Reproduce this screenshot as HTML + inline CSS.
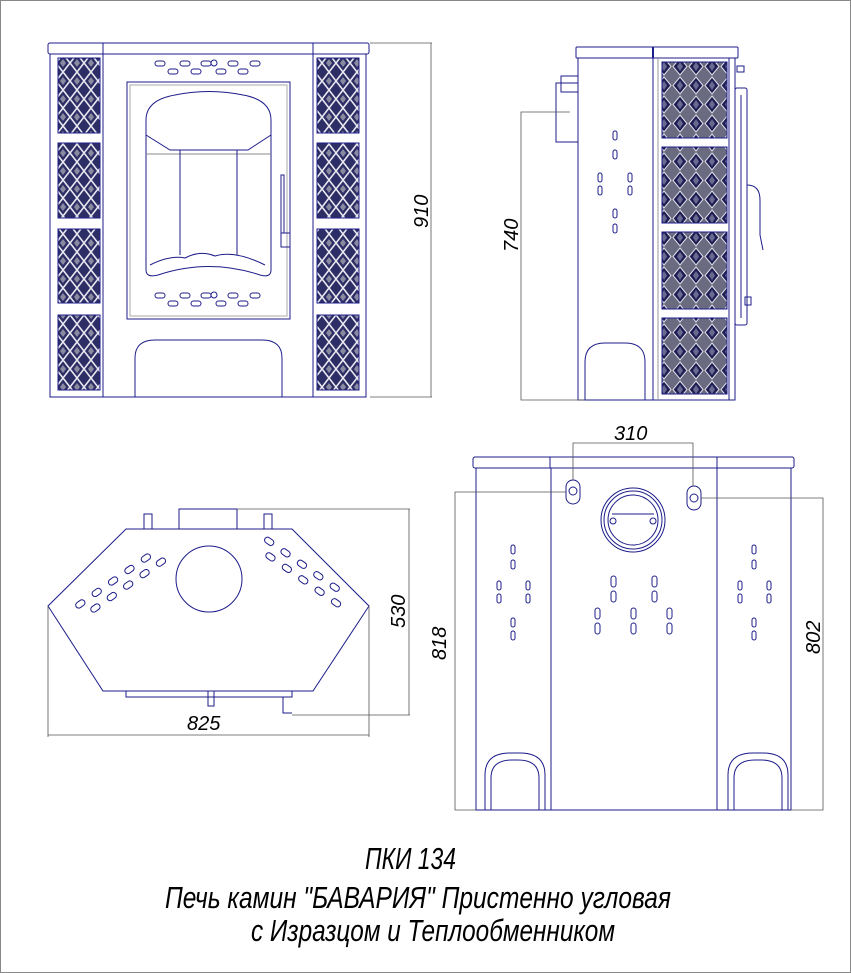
<!DOCTYPE html>
<html><head><meta charset="utf-8"><style>
html,body{margin:0;padding:0;background:#fff;}
svg{display:block;}
text{font-family:"Liberation Sans",sans-serif;font-style:italic;fill:#000;}
</style></head><body>
<svg width="851" height="973" viewBox="0 0 851 973" xmlns="http://www.w3.org/2000/svg">
<defs>
<pattern id="t1" width="14" height="18" patternUnits="userSpaceOnUse">
<rect width="14" height="18" fill="#2e2e66"/>
<path d="M7 0 L14 9 L7 18 L0 9 Z" fill="none" stroke="#e8e8f0" stroke-width="1.6"/>
<path d="M7 5 L10 9 L7 13 L4 9 Z" fill="#8a8aa0"/>
</pattern>
<pattern id="t2" width="16" height="19" patternUnits="userSpaceOnUse">
<rect width="16" height="19" fill="#6a6a80"/>
<path d="M8 1 L15 9.5 L8 18 L1 9.5 Z" fill="#1e1e55" stroke="#e0e0e8" stroke-width="1"/>
<path d="M8 5 L11 9.5 L8 14 L5 9.5 Z" fill="#6a6a90"/>
</pattern>
</defs>
<rect x="0.5" y="0.5" width="850" height="972" fill="#fff" stroke="#888" stroke-width="1"/>
<g fill="none" stroke="#1c1c8a" stroke-width="1">
<!-- FRONT VIEW -->
<rect x="48" y="43" width="321" height="11" rx="2"/>
<line x1="103" y1="43" x2="103" y2="54"/><line x1="313" y1="43" x2="313" y2="54"/>
<rect x="50" y="54" width="53" height="343"/>
<rect x="313" y="54" width="53" height="343"/>
<rect x="103" y="54" width="210" height="343"/>
<rect x="58" y="58" width="42" height="75" fill="url(#t1)"/>
<rect x="58" y="143" width="42" height="75" fill="url(#t1)"/>
<rect x="58" y="229" width="42" height="74" fill="url(#t1)"/>
<rect x="58" y="315" width="42" height="75" fill="url(#t1)"/>
<rect x="317" y="58" width="42" height="75" fill="url(#t1)"/>
<rect x="317" y="143" width="42" height="75" fill="url(#t1)"/>
<rect x="317" y="229" width="42" height="74" fill="url(#t1)"/>
<rect x="317" y="315" width="42" height="75" fill="url(#t1)"/>
<rect x="127" y="82" width="163" height="237"/>
<rect x="130" y="85" width="157" height="231" stroke="#aaa"/>
<path d="M146 120 Q146 100 175 95 Q209 88 243 95 Q271 100 271 120 L271 270 Q271 278 260 275 Q209 258 158 275 Q146 278 146 270 Z"/>
<path d="M146 135 L170 150 L248 150 L271 135"/>
<line x1="146" y1="154" x2="271" y2="154" stroke="#888"/>
<line x1="180" y1="150" x2="180" y2="255"/><line x1="237" y1="150" x2="237" y2="255"/>
<path d="M150 265 Q170 255 185 258 Q200 250 215 256 Q235 250 265 265"/>
<rect x="281" y="175" width="3" height="58"/><rect x="281" y="233" width="9" height="14"/>
<path d="M135 397 L135 358 Q135 340 155 340 L262 340 Q282 340 282 358 L282 397"/>
<g>
<rect x="155" y="61" width="10" height="5" rx="2.5"/><rect x="180" y="61" width="10" height="5" rx="2.5"/><rect x="201" y="61" width="10" height="5" rx="2.5"/><circle cx="214" cy="63" r="3"/><rect x="228" y="61" width="10" height="5" rx="2.5"/><rect x="250" y="61" width="10" height="5" rx="2.5"/>
<rect x="168" y="69" width="10" height="5" rx="2.5"/><rect x="191" y="69" width="10" height="5" rx="2.5"/><rect x="216" y="69" width="10" height="5" rx="2.5"/><rect x="238" y="69" width="10" height="5" rx="2.5"/>
<rect x="155" y="293" width="10" height="5" rx="2.5"/><rect x="180" y="293" width="10" height="5" rx="2.5"/><rect x="201" y="293" width="10" height="5" rx="2.5"/><circle cx="214" cy="295" r="3"/><rect x="228" y="293" width="10" height="5" rx="2.5"/><rect x="250" y="293" width="10" height="5" rx="2.5"/>
<rect x="168" y="301" width="10" height="5" rx="2.5"/><rect x="191" y="301" width="10" height="5" rx="2.5"/><rect x="216" y="301" width="10" height="5" rx="2.5"/><rect x="238" y="301" width="10" height="5" rx="2.5"/>
</g>
<!-- SIDE VIEW -->
<rect x="576" y="47" width="162" height="11" rx="1"/>
<line x1="653" y1="47" x2="653" y2="58" stroke-width="2"/>
<rect x="578" y="58" width="157" height="342"/>
<line x1="653" y1="58" x2="653" y2="400"/><line x1="658" y1="58" x2="658" y2="400" stroke="#999"/>
<line x1="729" y1="58" x2="729" y2="400"/>
<rect x="662" y="62" width="65" height="76" fill="url(#t2)"/>
<rect x="662" y="147" width="65" height="76" fill="url(#t2)"/>
<rect x="662" y="232" width="65" height="77" fill="url(#t2)"/>
<rect x="662" y="318" width="65" height="76" fill="url(#t2)"/>
<rect x="556" y="83" width="22" height="59"/><rect x="561" y="76" width="17" height="16"/>
<rect x="735" y="88" width="12" height="237" rx="2"/><line x1="741" y1="95" x2="741" y2="318"/>
<path d="M747 185 Q760 185 760 200 L760 235 L763 250"/>
<rect x="737" y="66" width="7" height="6"/><rect x="745" y="297" width="6" height="8"/>
<path d="M585 400 L585 362 Q585 343 605 343 L625 343 Q645 343 645 362 L645 400"/>
<rect x="613" y="131" width="4" height="9" rx="2"/><rect x="613" y="150" width="4" height="9" rx="2"/>
<rect x="598" y="173" width="4" height="9" rx="2"/><rect x="598" y="186" width="4" height="9" rx="2"/>
<rect x="628" y="173" width="4" height="9" rx="2"/><rect x="628" y="186" width="4" height="9" rx="2"/>
<rect x="613" y="209" width="4" height="9" rx="2"/><rect x="613" y="224" width="4" height="9" rx="2"/>
<!-- TOP VIEW -->
<polygon points="126,529 292,529 369,606 313,691 103,691 48,606"/>
<rect x="179" y="509" width="58" height="20"/>
<rect x="144" y="514" width="8" height="15"/><rect x="264" y="514" width="8" height="15"/>
<rect x="126" y="691" width="166" height="6"/><rect x="208" y="691" width="6" height="15"/>
<path d="M283 697 L283 713 L292 713"/>
<circle cx="209" cy="579" r="33"/>
<g transform="rotate(-35 95 590)"><rect x="70" y="590" width="10" height="6" rx="3"/><rect x="90" y="590" width="10" height="6" rx="3"/><rect x="110" y="590" width="10" height="6" rx="3"/><rect x="130" y="590" width="10" height="6" rx="3"/><rect x="150" y="590" width="10" height="6" rx="3"/><rect x="80" y="602" width="10" height="6" rx="3"/><rect x="100" y="602" width="10" height="6" rx="3"/><rect x="120" y="602" width="10" height="6" rx="3"/><rect x="140" y="602" width="10" height="6" rx="3"/><rect x="160" y="602" width="10" height="6" rx="3"/></g>
<g transform="rotate(35 323 590)"><rect x="256" y="590" width="10" height="6" rx="3"/><rect x="276" y="590" width="10" height="6" rx="3"/><rect x="296" y="590" width="10" height="6" rx="3"/><rect x="316" y="590" width="10" height="6" rx="3"/><rect x="336" y="590" width="10" height="6" rx="3"/><rect x="246" y="578" width="10" height="6" rx="3"/><rect x="266" y="578" width="10" height="6" rx="3"/><rect x="286" y="578" width="10" height="6" rx="3"/><rect x="306" y="578" width="10" height="6" rx="3"/><rect x="326" y="578" width="10" height="6" rx="3"/></g>
<!-- REAR VIEW -->
<rect x="473" y="457" width="321" height="11" rx="2"/>
<line x1="550" y1="457" x2="550" y2="468"/><line x1="717" y1="457" x2="717" y2="468"/>
<rect x="476" y="468" width="315" height="342"/>
<line x1="551" y1="468" x2="551" y2="810"/><line x1="717" y1="468" x2="717" y2="810"/>
<circle cx="633" cy="520" r="32"/><circle cx="633" cy="520" r="29"/><circle cx="633" cy="520" r="25"/>
<line x1="612" y1="514" x2="654" y2="514"/><circle cx="613" cy="521" r="3"/><circle cx="653" cy="521" r="3"/>
<rect x="566" y="480" width="14" height="24" rx="7"/><circle cx="573" cy="491" r="4"/>
<rect x="687" y="486" width="14" height="24" rx="7"/><circle cx="694" cy="498" r="4"/>
<path d="M485 810 L485 775 Q485 753 510 753 L520 753 Q545 753 545 775 L545 810"/>
<path d="M491 810 L491 778 Q491 760 512 760 L518 760 Q539 760 539 778 L539 810"/>
<path d="M728 810 L728 775 Q728 753 753 753 L763 753 Q788 753 788 775 L788 810"/>
<path d="M734 810 L734 778 Q734 760 755 760 L761 760 Q782 760 782 778 L782 810"/>
<g>
<rect x="511" y="545" width="4" height="9" rx="2"/><rect x="511" y="560" width="4" height="9" rx="2"/>
<rect x="497" y="581" width="4" height="9" rx="2"/><rect x="497" y="594" width="4" height="9" rx="2"/>
<rect x="526" y="581" width="4" height="9" rx="2"/><rect x="526" y="594" width="4" height="9" rx="2"/>
<rect x="511" y="618" width="4" height="9" rx="2"/><rect x="511" y="631" width="4" height="9" rx="2"/>
<rect x="752" y="545" width="4" height="9" rx="2"/><rect x="752" y="560" width="4" height="9" rx="2"/>
<rect x="738" y="581" width="4" height="9" rx="2"/><rect x="738" y="594" width="4" height="9" rx="2"/>
<rect x="767" y="581" width="4" height="9" rx="2"/><rect x="767" y="594" width="4" height="9" rx="2"/>
<rect x="752" y="618" width="4" height="9" rx="2"/><rect x="752" y="631" width="4" height="9" rx="2"/>
<rect x="611" y="576" width="5" height="11" rx="2.5"/><rect x="611" y="591" width="5" height="11" rx="2.5"/>
<rect x="652" y="576" width="5" height="11" rx="2.5"/><rect x="652" y="591" width="5" height="11" rx="2.5"/>
<rect x="595" y="608" width="5" height="11" rx="2.5"/><rect x="595" y="623" width="5" height="11" rx="2.5"/>
<rect x="631" y="608" width="5" height="11" rx="2.5"/><rect x="631" y="623" width="5" height="11" rx="2.5"/>
<rect x="667" y="608" width="5" height="11" rx="2.5"/><rect x="667" y="623" width="5" height="11" rx="2.5"/>
</g>
</g>
<!-- dimension lines -->
<g fill="none" stroke="#555" stroke-width="0.8">
<path d="M370 43 L432 43 M431 43 L431 397 M370 397 L432 397"/>
<path d="M570 112 L521 112 L521 400 L585 400"/>
<path d="M237 509 L410 509 M409 509 L409 715 M292 715 L410 715"/>
<path d="M48 606 L48 737 M369 606 L369 737 M48 735 L369 735"/>
<path d="M573 480 L573 443 L693 443 L693 486"/>
<path d="M566 492 L455 492 L455 810 L476 810"/>
<path d="M701 498 L823 498 L823 810 L791 810"/>
</g>
<g font-size="20">
<text transform="translate(428 228) rotate(-90)">910</text>
<text transform="translate(518 252) rotate(-90)">740</text>
<text transform="translate(405 628) rotate(-90)">530</text>
<text x="187" y="730">825</text>
<text x="614" y="440">310</text>
<text transform="translate(446 660) rotate(-90)">818</text>
<text transform="translate(820 654) rotate(-90)">802</text>
</g>
<g font-size="31" xml:space="preserve">
<text x="365" y="869" textLength="91" lengthAdjust="spacingAndGlyphs">ПКИ 134</text>
<text x="165" y="908" textLength="506" lengthAdjust="spacingAndGlyphs">Печь камин "БАВАРИЯ"    Пристенно угловая</text>
<text x="251" y="941" textLength="364" lengthAdjust="spacingAndGlyphs">с Изразцом и Теплообменником</text>
</g>
</svg>
</body></html>
